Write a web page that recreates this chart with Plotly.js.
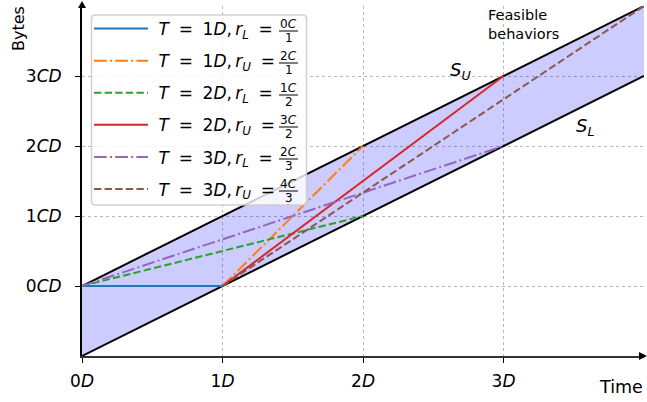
<!DOCTYPE html>
<html><head><meta charset="utf-8">
<script src="https://cdn.plot.ly/plotly-3.0.1.min.js"></script>
<style>html,body{margin:0;padding:0;background:#fff}#chart{width:647px;height:402px}</style>
</head><body><div id="chart"></div>
<script>
// ---- data ----
const periodsT = [1, 1, 2, 2, 3, 3];
const boundKind = ['L', 'U', 'L', 'U', 'L', 'U'];
const rateNum = [0, 2, 1, 3, 2, 4];
const startX = [0, 1, 0, 1, 0, 1];
const startY = [0, 0, 0, 0, 0, 0];
const endX = [1, 2, 2, 3, 3, 4];
const endY = [0, 2, 1, 3, 2, 4];
const upperX = [0, 4], upperY = [0, 4];
const lowerX = [0, 4], lowerY = [-1, 3];
const xTickVals = [0, 1, 2, 3];
const xTickText = ['0<i>D</i>', '1<i>D</i>', '2<i>D</i>', '3<i>D</i>'];
const yTickVals = [0, 1, 2, 3];
const yTickText = ['0<i>CD</i>', '1<i>CD</i>', '2<i>CD</i>', '3<i>CD</i>'];

// ---- style ----
const seriesColors = ['#1f77b4', '#ff7f0e', '#2ca02c', '#d62728', '#9467bd', '#8c564b'];
const dashDot = '12.8px,3.2px,2px,3.2px';
const dashed = '7.4px,3.2px';
const seriesDash = ['solid', dashDot, dashed, 'solid', dashDot, dashed];
const FONT = 'DejaVu Sans, sans-serif';
const SP = '\u2005', TH = '\u2009', LEAD = '\u2004';

// pixel helpers (plot area 82..644 x 6..356)
const PL = 82, PT = 6, PW = 562, PH = 350;
const px = v => (v - PL) / PW;
const py = v => (PT + PH - v) / PH;

const traces = [];
traces.push({
  x: [upperX[0], upperX[1], lowerX[1], lowerX[0]],
  y: [upperY[0], upperY[1], lowerY[1], lowerY[0]],
  type: 'scatter', mode: 'lines', fill: 'toself',
  fillcolor: 'rgba(0,0,255,0.2)', line: {width: 0}, showlegend: false, hoverinfo: 'skip'
});
traces.push({x: upperX, y: upperY, type: 'scatter', mode: 'lines',
  line: {color: '#000', width: 2}, showlegend: false});
traces.push({x: lowerX, y: lowerY, type: 'scatter', mode: 'lines',
  line: {color: '#000', width: 2}, showlegend: false});

for (let i = 0; i < periodsT.length; i++) {
  traces.push({
    x: [startX[i], endX[i]], y: [startY[i], endY[i]],
    type: 'scatter', mode: 'lines',
    name: LEAD + '<i>T</i> ' + SP + '= ' + SP + periodsT[i] + '<i>D</i>,' + TH + '<i>r</i><sub><i>' + boundKind[i] + '</i></sub> ' + SP + '=',
    legendgroup: 'g' + i,
    line: {color: seriesColors[i], width: 2, dash: seriesDash[i]}
  });
}

const rowY0 = 29, rowStep = 32, fracX = 288.5;
const shapes = [
  // legend frame (rounded), pixel path anchored at its top-left corner
  {type: 'path', xref: 'paper', yref: 'paper', xsizemode: 'pixel', ysizemode: 'pixel',
   xanchor: px(91.5), yanchor: py(15),
   path: 'M4,0 H211 Q215,0 215,-4 V-186 Q215,-190 211,-190 H4 Q0,-190 0,-186 V-4 Q0,0 4,0 Z',
   fillcolor: 'rgba(255,255,255,0.8)', line: {color: 'rgba(204,204,204,0.9)', width: 1.5}, layer: 'above'},
  // y-axis arrowhead
  {type: 'path', xref: 'paper', yref: 'paper', xsizemode: 'pixel', ysizemode: 'pixel',
   xanchor: 0, yanchor: 1, path: 'M-4,-2 L4,-2 L0,5 Z', fillcolor: '#000', line: {width: 0}, layer: 'above'},
  // x-axis arrowhead
  {type: 'path', xref: 'paper', yref: 'paper', xsizemode: 'pixel', ysizemode: 'pixel',
   xanchor: 1, yanchor: 0, path: 'M-5,-4 L-5,4 L3,0 Z', fillcolor: '#000', line: {width: 0}, layer: 'above'}
];
const annotations = [];
for (let i = 0; i < periodsT.length; i++) {
  const ry = rowY0 + rowStep * i;
  annotations.push({xref: 'paper', yref: 'paper', x: px(fracX), y: py(ry - 5), showarrow: false,
    text: rateNum[i] + '<i>C</i>', font: {family: FONT, size: 12, color: '#000'}, xanchor: 'center', yanchor: 'middle'});
  annotations.push({xref: 'paper', yref: 'paper', x: px(fracX), y: py(ry + 9), showarrow: false,
    text: String(periodsT[i]), font: {family: FONT, size: 12, color: '#000'}, xanchor: 'center', yanchor: 'middle'});
  shapes.push({type: 'line', xref: 'paper', yref: 'paper', x0: px(fracX - 9.5), x1: px(fracX + 9.5),
    y0: py(ry + 2), y1: py(ry + 2), line: {color: '#000', width: 1}, layer: 'above'});
}
annotations.push({xref: 'paper', yref: 'paper', x: px(523), y: py(25), showarrow: false,
  text: 'Feasible<br>behaviors', font: {family: FONT, size: 14.5, color: '#000'}, xanchor: 'center', yanchor: 'middle', align: 'left'});
annotations.push({xref: 'paper', yref: 'paper', x: px(460), y: py(71), showarrow: false,
  text: '<i>S</i><sub><i>U</i></sub>', font: {family: FONT, size: 18, color: '#000'}, xanchor: 'center', yanchor: 'middle'});
annotations.push({xref: 'paper', yref: 'paper', x: px(585), y: py(127), showarrow: false,
  text: '<i>S</i><sub><i>L</i></sub>', font: {family: FONT, size: 18, color: '#000'}, xanchor: 'center', yanchor: 'middle'});
annotations.push({xref: 'paper', yref: 'paper', x: px(621), y: py(387), showarrow: false,
  text: 'Time', font: {family: FONT, size: 17.5, color: '#000'}, xanchor: 'center', yanchor: 'middle'});
annotations.push({xref: 'paper', yref: 'paper', x: px(18), y: py(29), showarrow: false, textangle: -90,
  text: 'Bytes', font: {family: FONT, size: 16, color: '#000'}, xanchor: 'center', yanchor: 'middle'});

const layout = {
  width: 647, height: 402,
  margin: {l: PL, r: 647 - PL - PW, t: PT, b: 402 - PT - PH, pad: 0},
  paper_bgcolor: '#fff', plot_bgcolor: '#fff',
  font: {family: FONT, size: 17, color: '#000'},
  xaxis: {range: [0, 4], tickvals: xTickVals, ticktext: xTickText, ticks: 'outside', ticklen: 5,
    tickcolor: '#000', showline: true, linecolor: '#333', linewidth: 2, zeroline: false,
    showgrid: true, gridcolor: '#b8b8b8', griddash: 'dot', gridwidth: 1, tickfont: {size: 17},
    ticklabelstandoff: 4},
  yaxis: {range: [-1, 4], tickvals: yTickVals, ticktext: yTickText, ticks: 'outside', ticklen: 5,
    tickcolor: '#000', showline: true, linecolor: '#000', linewidth: 2, zeroline: false,
    showgrid: true, gridcolor: '#b8b8b8', griddash: 'dot', gridwidth: 1, tickfont: {size: 17},
    ticklabelstandoff: 10},
  legend: {x: px(89), y: py(11), xanchor: 'left', yanchor: 'top', bgcolor: 'rgba(0,0,0,0)',
    borderwidth: 0, font: {family: FONT, size: 17, color: '#000'}, tracegroupgap: 7, itemwidth: 54},
  showlegend: true,
  shapes: shapes,
  annotations: annotations
};
Plotly.newPlot('chart', traces, layout, {displayModeBar: false, staticPlot: true});
</script>
</body></html>
